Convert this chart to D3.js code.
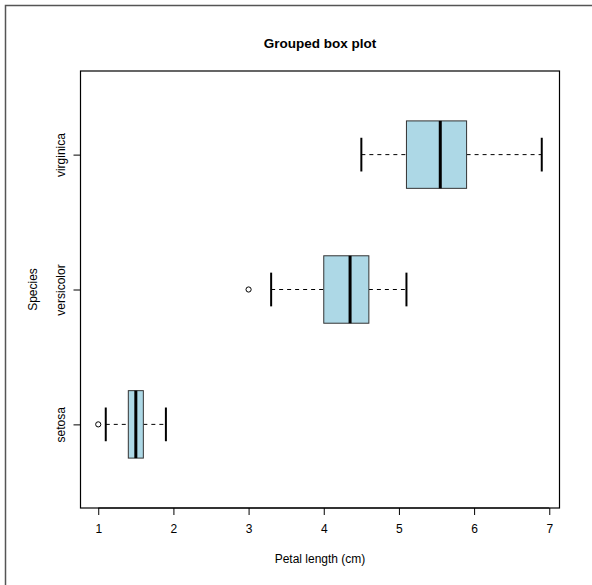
<!DOCTYPE html>
<html><head><meta charset="utf-8">
<script src="https://cdn.jsdelivr.net/npm/d3@7"></script>
<style>body{margin:0;background:#fff}svg{display:block}text{font-family:"Liberation Sans",Arial,sans-serif}</style>
</head><body>
<script>
const species = ["setosa", "versicolor", "virginica"];
const whiskerLow = [1.1, 3.3, 4.5];
const q1 = [1.4, 4.0, 5.1];
const median = [1.5, 4.35, 5.55];
const q3 = [1.6, 4.6, 5.9];
const whiskerHigh = [1.9, 5.1, 6.9];
const outliers = [[1.0], [3.0], []];
const xTicks = [1, 2, 3, 4, 5, 6, 7];

(function(){
const W = 592, H = 585;
const pl = 80.5, pr = 559.5, pt = 71, pb = 508;
const svg = d3.select("body").append("svg").attr("width", W).attr("height", H);

svg.append("rect").attr("x", 5.5).attr("y", 5.5).attr("width", W + 10).attr("height", H + 10)
  .attr("fill", "none").attr("stroke", "#555").attr("stroke-width", 1.5);

const x = d3.scaleLinear().domain([0.764, 7.136]).range([pl, pr]);
const y = d3.scaleLinear().domain([0.38, 3.62]).range([pb, pt]);

const data = species.map((s, i) => ({s, i: i + 1, lo: whiskerLow[i], q1: q1[i], med: median[i], q3: q3[i], hi: whiskerHigh[i], out: outliers[i]}));
const hb = 0.25, hc = 0.125;

const g = svg.append("g");
data.forEach(d => {
  const yc = y(d.i);
  g.append("line").attr("x1", x(d.lo)).attr("x2", x(d.q1)).attr("y1", yc).attr("y2", yc)
    .attr("stroke", "#000").attr("stroke-dasharray", "4,4");
  g.append("line").attr("x1", x(d.q3)).attr("x2", x(d.hi)).attr("y1", yc).attr("y2", yc)
    .attr("stroke", "#000").attr("stroke-dasharray", "4,4");
  [d.lo, d.hi].forEach(v => g.append("line").attr("x1", x(v)).attr("x2", x(v))
    .attr("y1", y(d.i - hc)).attr("y2", y(d.i + hc)).attr("stroke", "#000").attr("stroke-width", 2));
  g.append("rect").attr("x", x(d.q1)).attr("y", y(d.i + hb)).attr("width", x(d.q3) - x(d.q1))
    .attr("height", y(d.i - hb) - y(d.i + hb)).attr("fill", "#ADD8E6").attr("stroke", "#333").attr("stroke-width", 1);
  g.append("line").attr("x1", x(d.med)).attr("x2", x(d.med)).attr("y1", y(d.i + hb)).attr("y2", y(d.i - hb))
    .attr("stroke", "#000").attr("stroke-width", 3);
  d.out.forEach(v => g.append("circle").attr("cx", x(v)).attr("cy", yc).attr("r", 2.6)
    .attr("fill", "none").attr("stroke", "#000").attr("stroke-width", 1));
});

svg.append("rect").attr("x", pl).attr("y", pt).attr("width", pr - pl).attr("height", pb - pt)
  .attr("fill", "none").attr("stroke", "#000").attr("stroke-width", 1.2);

const xAxis = svg.append("g").attr("transform", `translate(0,${pb})`)
  .call(d3.axisBottom(x).tickValues(xTicks).tickSize(7).tickPadding(9).tickFormat(d3.format("d")));
xAxis.select(".domain").attr("d", `M${x(1)},0H${x(7)}`).attr("stroke", "#000");
xAxis.selectAll("line").attr("stroke", "#000");
xAxis.selectAll("text").attr("font-size", 12).attr("fill", "#000").attr("font-family", "Liberation Sans, Arial, sans-serif");

const yAxis = svg.append("g").attr("transform", `translate(${pl},0)`)
  .call(d3.axisLeft(y).tickValues([1, 2, 3]).tickSize(7).tickFormat((d, i) => species[i]));
yAxis.select(".domain").attr("d", `M0,${y(1)}V${y(3)}`).attr("stroke", "#000");
yAxis.selectAll("line").attr("stroke", "#000");
yAxis.selectAll("text").attr("font-size", 12).attr("fill", "#000").attr("font-family", "Liberation Sans, Arial, sans-serif")
  .attr("x", 0).attr("y", 0).attr("dy", 0).attr("text-anchor", "middle")
  .attr("transform", "translate(-15.5,0) rotate(-90)");

svg.append("text").attr("x", (pl + pr) / 2).attr("y", 48).attr("text-anchor", "middle")
  .attr("font-size", 13.5).attr("font-weight", "bold").text("Grouped box plot");
svg.append("text").attr("x", (pl + pr) / 2).attr("y", 563).attr("text-anchor", "middle")
  .attr("font-size", 12).text("Petal length (cm)");
svg.append("text").attr("transform", `translate(37,${(pt + pb) / 2}) rotate(-90)`).attr("text-anchor", "middle")
  .attr("font-size", 12).text("Species");
})();
</script>
</body></html>
